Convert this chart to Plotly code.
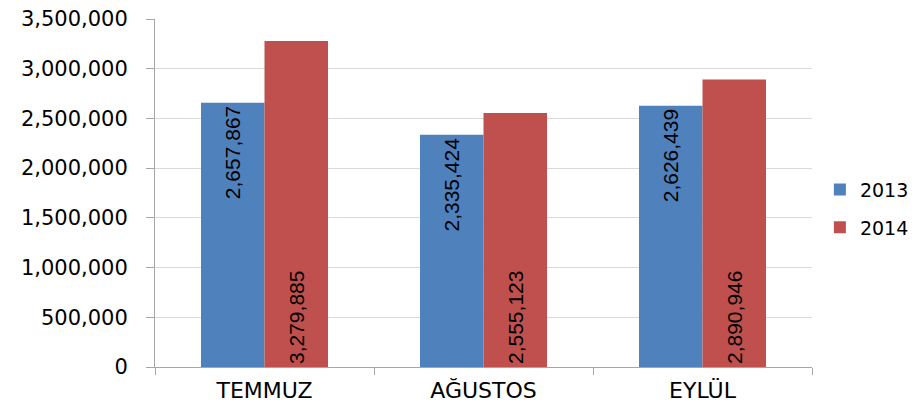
import plotly.graph_objects as go

categories = ["TEMMUZ", "AĞUSTOS", "EYLÜL"]
values_2013 = [2657867, 2335424, 2626439]
values_2014 = [3279885, 2555123, 2890946]
tick_vals = [0, 500000, 1000000, 1500000, 2000000, 2500000, 3000000, 3500000]

fig = go.Figure()
fig.add_trace(go.Bar(
    name="2013", x=categories, y=values_2013,
    marker=dict(color="#4F81BD", line=dict(width=0)),
    text=[f"{v:,}" for v in values_2013], textposition="inside",
    insidetextanchor="end", textangle=-90,
    textfont=dict(family="Liberation Sans", size=21, color="black"),
    legendgroup="a",
))
fig.add_trace(go.Bar(
    name="2014", x=categories, y=values_2014,
    marker=dict(color="#C0504D", line=dict(width=0)),
    text=[f"{v:,}" for v in values_2014], textposition="inside",
    insidetextanchor="start", textangle=-90,
    textfont=dict(family="Liberation Sans", size=21, color="black"),
    legendgroup="b",
))

fig.update_layout(
    width=913, height=403,
    margin=dict(l=147, r=109, t=11, b=44, autoexpand=False),
    paper_bgcolor="white", plot_bgcolor="white",
    barmode="group", bargap=0.42, bargroupgap=0,
    font=dict(family="DejaVu Sans", size=20, color="black"),
    legend=dict(x=1.012, xanchor="left", y=0.455, yanchor="middle",
                font=dict(family="DejaVu Sans", size=19),
                tracegroupgap=10, traceorder="grouped",
                itemwidth=30),
    showlegend=True,
)
fig.update_yaxes(
    range=[0, 3500000], tickvals=tick_vals, tickformat=",",
    showgrid=True, gridcolor="#D9D9D9", gridwidth=1,
    showline=True, linecolor="#A6A6A6", linewidth=1,
    ticks="outside", ticklen=8, tickcolor="#A6A6A6",
    ticklabelstandoff=14, automargin=False, ticklabeloverflow="allow",
    tickfont=dict(family="DejaVu Sans", size=21, color="black"),
    zeroline=False,
)
fig.update_xaxes(
    showline=True, linecolor="#A6A6A6", linewidth=1,
    ticks="outside", ticklen=7, tickcolor="#A6A6A6", tickson="boundaries",
    tickfont=dict(family="DejaVu Sans", size=22, color="black"),
    ticklabelstandoff=4, automargin=False, ticklabeloverflow="allow",
)

fig.write_html("out.html")
